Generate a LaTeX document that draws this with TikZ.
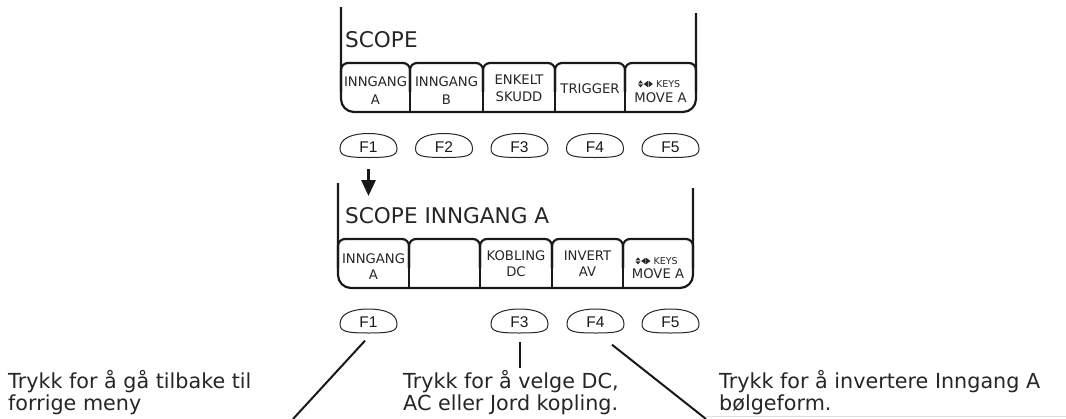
\documentclass[tikz,border=0pt]{standalone}
\usepackage{fontspec}
\setmainfont{DejaVu Sans}
\newfontfamily\keyfont{Liberation Sans}
\usetikzlibrary{arrows.meta}
\tikzset{
  pl/.style={line width=2.2pt, draw=black!90, line join=round},
  btn/.style={font=\fontsize{13.2}{14}\selectfont, text=black!85, inner sep=0pt, anchor=base},
  smallkeys/.style={font=\fontsize{9.5}{10}\selectfont, text=black!85, inner sep=0pt, anchor=base west},
  keyline/.style={line width=1pt, draw=black!85},
  keytext/.style={font=\keyfont\fontsize{15.5}{16}\selectfont, text=black!90, inner sep=0pt, minimum width=57pt, minimum height=24pt},
  paneltitle/.style={font=\fontsize{21.6}{24}\selectfont, text=black!85, anchor=base west, inner sep=0pt},
  desc/.style={font=\fontsize{20.7}{24}\selectfont, text=black!85, anchor=base west, inner sep=0pt},
  conn/.style={line width=2pt, draw=black!90},
  iconfill/.style={fill=black!85, draw=none},
}
\newcommand\fkeydraw[4]{%
  \begin{scope}[shift={(#2,#3)}]
    \draw[keyline] (-28.5,3) .. controls (-28.5,-8) and (-15,-12) .. (0,-12)
      .. controls (15,-12) and (28.5,-8) .. (28.5,3)
      .. controls (28.5,10.5) and (22,12) .. (0,12)
      .. controls (-22,12) and (-28.5,10.5) .. cycle;
  \end{scope}
  \node[keytext] (#1) at (#2,#3+1.5) {#4};}
\newcommand\keysicon[2]{%
  \begin{scope}[shift={(#1,#2)}]
    \fill[iconfill] (0,-3.6) -- (5,-3.6) -- (2.5,-6.6) -- cycle;
    \fill[iconfill] (0,-2.6) -- (5,-2.6) -- (2.5,0.4) -- cycle;
    \fill[iconfill] (5.6,-3) -- (10,-6.2) -- (10,0.2) -- cycle;
    \fill[iconfill] (10.6,-6.2) -- (15,-3) -- (10.6,0.2) -- cycle;
  \end{scope}}
\begin{document}
\begin{tikzpicture}[x=1pt,y=-1pt]
\useasboundingbox[fill=white] (0,0) rectangle (1066,418);

% ---------- top panel ----------
\draw[pl, rounded corners=13pt] (341,7) -- (341,112) -- (696,112) -- (696,13);
\foreach \a/\b in {341/410, 410/483, 483/555, 555/625, 625/696}
  \draw[pl, rounded corners=7pt] (\a,92) -- (\a,63) -- (\b,63) -- (\b,92);
\foreach \x in {410,483,555,625}
  \draw[pl] (\x,80) -- (\x,112);
\node[paneltitle] (t1) at (345,47) {SCOPE};
\node[btn] (a1) at (375.5,86) {INNGANG};
\node[btn] (a1b) at (375.5,104) {A};
\node[btn] (a2) at (446.5,86) {INNGANG};
\node[btn] (a2b) at (446.5,104) {B};
\node[btn] (a3) at (519,84) {ENKELT};
\node[btn] (a3b) at (519,101) {SKUDD};
\node[btn] (a4) at (590,93) {TRIGGER};
\keysicon{638}{87}
\node[smallkeys] (a5) at (656,87) {KEYS};
\node[btn] (a5b) at (660.5,102) {MOVE A};

% ---------- top keys ----------
\fkeydraw{k1a}{368.5}{145.5}{F1}
\fkeydraw{k2a}{444}{145.5}{F2}
\fkeydraw{k3a}{519.5}{145.5}{F3}
\fkeydraw{k4a}{595}{145.5}{F4}
\fkeydraw{k5a}{670.5}{145.5}{F5}

\coordinate (arrowtip) at (368.5,196);
\draw[line width=3pt, draw=black!90, -{Triangle[width=14pt,length=16pt]}, shorten <=10pt] (k1a.south) -- (arrowtip);

% ---------- bottom panel ----------
\draw[pl, rounded corners=13pt] (338,183) -- (338,288) -- (693,288) -- (693,188);
\foreach \a/\b in {338/409, 409/480, 480/552, 552/623, 623/693}
  \draw[pl, rounded corners=7pt] (\a,268) -- (\a,239) -- (\b,239) -- (\b,268);
\foreach \x in {409,480,552,623}
  \draw[pl] (\x,256) -- (\x,288);
\node[paneltitle] (t2) at (345,223) {SCOPE INNGANG A};
\node[btn] (b1) at (373.5,263) {INNGANG};
\node[btn] (b1b) at (373.5,279) {A};
\node[btn] (b3) at (516,260) {KOBLING};
\node[btn] (b3b) at (516,276.5) {DC};
\node[btn] (b4) at (587.5,260) {INVERT};
\node[btn] (b4b) at (587.5,276.5) {AV};
\keysicon{635.5}{264}
\node[smallkeys] (b5) at (653.5,264) {KEYS};
\node[btn] (b5b) at (658,278) {MOVE A};

% ---------- bottom keys ----------
\fkeydraw{k1b}{368.5}{321}{F1}
\fkeydraw{k3b}{519.5}{321}{F3}
\fkeydraw{k4b}{595.5}{321}{F4}
\fkeydraw{k5b}{670.5}{321}{F5}

% ---------- descriptions ----------
\node[desc] (d1) at (8,388) {Trykk for å gå tilbake til};
\node[desc] (d1b) at (8,410) {forrige meny};
\node[desc] (d3) at (403,388) {Trykk for å velge DC,};
\node[desc] (d3b) at (403,410) {AC eller Jord kopling.};
\node[desc] (d4) at (719,388) {Trykk for å invertere Inngang A};
\node[desc] (d4b) at (719,410) {bølgeform.};

% ---------- connectors ----------
\coordinate (c1) at (293,419);
\coordinate (c3) at (520,368);
\coordinate (c4) at (706,419);
\draw[conn] ([shift={(-3.5,6)}]k1b.south) -- (c1);
\draw[line width=2.8pt, draw=black!90] ([shift={(0.5,7)}]k3b.south) -- (c3);
\draw[conn] ([shift={(16.5,10)}]k4b.south) -- (c4);
\draw[line width=1pt, draw=black!12] (706,416.8) -- (1066,416.8);
\end{tikzpicture}
\end{document}
